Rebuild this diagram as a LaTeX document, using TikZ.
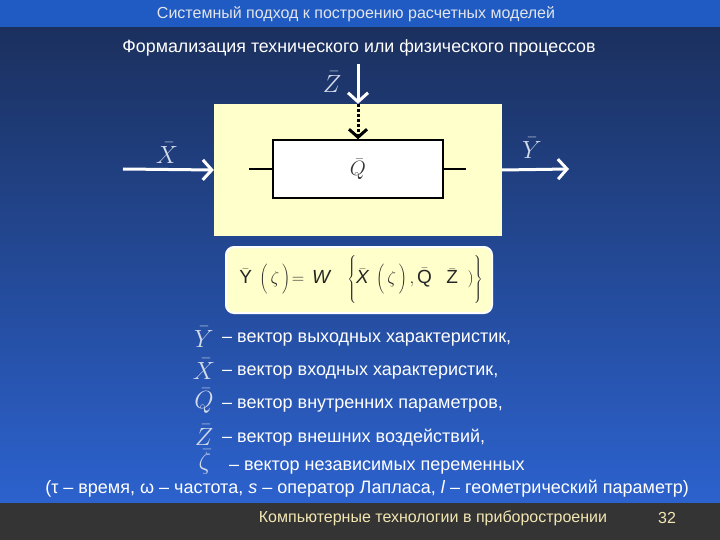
\documentclass[tikz,border=0pt]{standalone}
\usepackage{fontspec}
\setmainfont{Liberation Sans}
\usetikzlibrary{arrows.meta}
\definecolor{bandblue}{HTML}{1F5BC2}
\definecolor{navytop}{HTML}{1B305E}
\definecolor{bluebot}{HTML}{2C62CE}
\definecolor{footgray}{HTML}{343434}
\definecolor{paleyellow}{HTML}{FFFFCC}
\definecolor{symgray}{HTML}{D2DAEA}
\definecolor{foottext}{HTML}{F2E6B2}
\definecolor{titlegray}{HTML}{E2E4EA}

\begin{document}
\begin{tikzpicture}[x=1pt,y=-1pt,
  whitearrow/.style={draw=white,line width=3pt,-{Straight Barb[length=9pt,width=20pt]}},
  legsym/.style={text=symgray,font=\fontsize{33}{33}\selectfont,inner sep=0pt},
  legtext/.style={anchor=west,text=white,font=\fontsize{18}{20}\selectfont,inner sep=0pt},
  lab/.style={text=symgray,font=\fontsize{25}{25}\selectfont,inner sep=0pt}]
\useasboundingbox (0,0) rectangle (720,540);
% background
\shade[top color=navytop,bottom color=bluebot] (0,27) rectangle (720,503);
\fill[bandblue] (0,0) rectangle (720,27);
\fill[footgray] (0,503) rectangle (720,540);
%
\node[text=titlegray,font=\fontsize{16}{17}\selectfont] (title) at (356,14) {Системный подход к построению расчетных моделей};
\node[text=white,font=\fontsize{17.8}{19}\selectfont] (subtitle) at (359,48) {Формализация технического или физического процессов};
%
% block scheme
\node[fill=paleyellow,minimum width=288pt,minimum height=132pt,inner sep=0pt] (plant) at (358,170) {};
\node[draw=black,fill=white,line width=1.5pt,minimum width=170pt,minimum height=58pt,inner sep=0pt] (Q) at (358,169) {};
\node[text=black!80,font=\fontsize{22}{22}\selectfont,inner sep=0pt] (Qlab) at (Q) {$\bar{Q}$};
\coordinate (stubL) at (249,169);
\coordinate (stubR) at (466,169);
\draw[line width=1.5pt] (stubL) -- (Q.west);
\draw[line width=1.5pt] (Q.east) -- (stubR);
%
\coordinate (xin) at (123,169);
\coordinate (yout) at (569,169);
\coordinate (ztop) at (358,64);
\draw[whitearrow] (xin) -- (plant.west);
\draw[whitearrow] (plant.east) -- (yout);
\draw[whitearrow] (ztop) -- (plant.north);
\draw[line width=3pt,dotted,-{Straight Barb[length=8pt,width=18pt]}] (plant.north) -- (Q.north);
\node[lab] (Xlab) at (167,153) {$\bar{X}$};
\node[lab] (Ylab) at (532,148) {$\bar{Y}$};
\node[lab] (Zlab) at (332,82) {$\bar{Z}$};
%
% formula
\node[draw=white,fill=paleyellow,line width=2pt,rounded corners=8pt,minimum width=266pt,minimum height=66pt,inner sep=0pt] (formbox) at (359,280) {};
\node[text=black!85,font=\fontsize{19}{19}\selectfont,inner sep=0pt] (form) at (361,280)
  {$\bar{\mathrm{Y}}\;\left(\rule[-11pt]{0pt}{28pt}\,\zeta\,\right)\!=\,\mathit{W}\;\;\;\left\{\rule[-21pt]{0pt}{48pt}\bar{\mathit{X}}\;\left(\rule[-11pt]{0pt}{28pt}\,\zeta\,\right),\bar{\mathrm{Q}}\;\;\;\bar{\mathrm{Z}}\;\;)\right\}$};
%
% legend
\node[legsym] (sY) at (204,337) {$\bar{Y}$};
\node[legtext] (tY) at (222,340) {– вектор выходных характеристик,};
\node[legsym] (sX) at (204,369) {$\bar{X}$};
\node[legtext] (tX) at (222,373) {– вектор входных характеристик,};
\node[legsym] (sQ) at (204,401) {$\bar{Q}$};
\node[legtext] (tQ) at (222,406) {– вектор внутренних параметров,};
\node[legsym] (sZ) at (204,435) {$\bar{Z}$};
\node[legtext] (tZ) at (222,438) {– вектор внешних воздействий,};
\node[legsym] (sz) at (205,462) {$\bar{\zeta}$};
\node[legtext] (tz) at (229,468) {– вектор независимых переменных};
\node[text=white,font=\fontsize{18}{20}\selectfont,inner sep=0pt] (vars) at (367,489) {(τ – время, ω – частота, \textit{s} – оператор Лапласа, \textit{l} – геометрический параметр)};
%
% footer
\node[text=foottext,font=\fontsize{16}{17}\selectfont] (foot) at (433,518) {Компьютерные технологии в приборостроении};
\node[text=foottext,font=\fontsize{16}{17}\selectfont] (page) at (667,518) {32};
\end{tikzpicture}
\end{document}
